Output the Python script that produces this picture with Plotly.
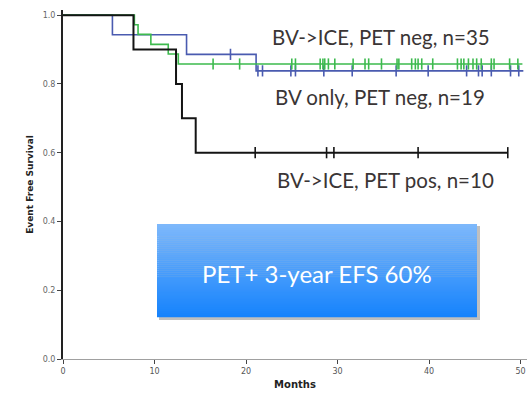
import plotly.graph_objects as go

# ---------------- data ----------------
x_ticks = [0, 10, 20, 30, 40, 50]
y_ticks = [0.0, 0.2, 0.4, 0.6, 0.8, 1.0]
y_tick_labels = ["0.0", "0.2", "0.4", "0.6", "0.8", "1.0"]

# BV->ICE, PET neg, n=35 (blue)
blue_t = [0, 5.4, 13.5, 21.1, 50.3]
blue_s = [1.0, 0.943, 0.886, 0.838, 0.838]
blue_cens = [18.3, 21.3, 21.8, 24.9, 25.4, 28.5, 31.6, 36.4, 39.9, 44.1,
             45.4, 45.8, 46.8, 48.9, 49.8]

# BV only, PET neg, n=19 (green)
green_t = [0, 7.8, 8.2, 9.6, 11.5, 12.6, 50.2]
green_s = [1.0, 0.972, 0.944, 0.915, 0.887, 0.858, 0.858]
green_cens = [16.4, 19.3, 25.0, 25.4, 28.1, 28.4, 28.6, 29.0, 29.7, 31.7,
              33.0, 33.4, 34.8, 36.5, 36.7, 38.1, 38.5, 38.8, 39.2, 40.4,
              43.1, 43.5, 43.8, 44.3, 44.8, 45.2, 45.7, 46.8, 47.1, 48.8, 49.7]

# BV->ICE, PET pos, n=10 (black)
black_t = [0, 7.7, 12.35, 13.0, 14.5, 48.6]
black_s = [1.0, 0.9, 0.8, 0.7, 0.6, 0.6]
black_cens = [21.0, 28.8, 29.6, 38.8, 48.6]

labels = ["BV->ICE, PET neg, n=35", "BV only, PET neg, n=19", "BV->ICE, PET pos, n=10"]
box_text = "PET+ 3-year EFS 60%"


def surv_at(ts, ss, t):
    v = ss[0]
    for ti, si in zip(ts, ss):
        if ti <= t:
            v = si
    return v


W, H = 530, 396
L, R, T, B = 63, 3, 10, 37

fig = go.Figure()

series = [
    (blue_t, blue_s, blue_cens, "#4a5bb0", 1.6),
    (green_t, green_s, green_cens, "#3dba4e", 1.6),
    (black_t, black_s, black_cens, "#141414", 2.0),
]
for ts, ss, cens, col, w in series:
    fig.add_trace(go.Scatter(x=ts, y=ss, mode="lines", line=dict(color=col, width=w, shape="hv"),
                             showlegend=False, hoverinfo="skip"))
    fig.add_trace(go.Scatter(x=cens, y=[surv_at(ts, ss, c) for c in cens], mode="markers",
                             marker=dict(symbol="line-ns-open", size=8, color=col,
                                         line=dict(color=col, width=1.6)),
                             showlegend=False, hoverinfo="skip"))

fig.update_xaxes(range=[0, 50.7], tickvals=x_ticks, ticktext=[str(v) for v in x_ticks],
                 showgrid=False, zeroline=False, showline=True, linecolor="#a0a0a0", linewidth=1,
                 ticks="outside", ticklen=4, tickcolor="#444", tickwidth=1,
                 tickfont=dict(family="DejaVu Sans", size=8, color="#555"),
                 title=dict(text="<b>Months</b>", font=dict(family="DejaVu Sans", size=10, color="#222"),
                            standoff=6))
fig.update_yaxes(range=[0, 1.015], tickvals=y_ticks, ticktext=y_tick_labels,
                 showgrid=False, zeroline=False, showline=True, linecolor="#222", linewidth=2,
                 ticks="outside", ticklen=4, tickcolor="#444", tickwidth=1,
                 tickfont=dict(family="DejaVu Sans", size=8, color="#666"),
                 title=dict(text="<b>Event Free Survival</b>", font=dict(family="DejaVu Sans", size=9, color="#222"),
                            standoff=8))


def px(x):
    return (x - L) / (W - L - R)


def py(y):
    return (H - B - y) / (H - T - B)


# shadow + gradient box
bx0, bx1, by0, by1 = 157, 477, 224, 317
fig.add_shape(type="rect", xref="paper", yref="paper", x0=px(bx0 + 2), x1=px(bx1 + 3),
              y0=py(by1 + 3), y1=py(by0 + 2), line=dict(width=0), fillcolor="rgba(0,0,0,0.25)")
n = 46
top = (125, 184, 251)
bot = (22, 131, 252)
for i in range(n):
    f = i / (n - 1)
    c = tuple(round(top[k] + (bot[k] - top[k]) * f) for k in range(3))
    y0 = by0 + (by1 - by0) * i / n
    y1 = by0 + (by1 - by0) * (i + 1) / n
    fig.add_shape(type="rect", xref="paper", yref="paper", x0=px(bx0), x1=px(bx1),
                  y0=py(y1 + 0.3), y1=py(y0), line=dict(width=0), fillcolor="rgb(%d,%d,%d)" % c)

fig.add_annotation(xref="paper", yref="paper", x=px(317), y=py(273), text=box_text, showarrow=False,
                   font=dict(family="Lato", size=24, color="white"), xanchor="center", yanchor="middle")

label_pos = [(381, 37), (380, 97), (385, 180)]
for txt, (lx, ly) in zip(labels, label_pos):
    fig.add_annotation(xref="paper", yref="paper", x=px(lx), y=py(ly), text=txt, showarrow=False,
                       font=dict(family="Lato", size=20.5, color="#3a3535"), xanchor="center", yanchor="middle")

fig.update_layout(width=W, height=H, margin=dict(l=L, r=R, t=T, b=B),
                  paper_bgcolor="white", plot_bgcolor="white")

fig.write_html("out.html")
